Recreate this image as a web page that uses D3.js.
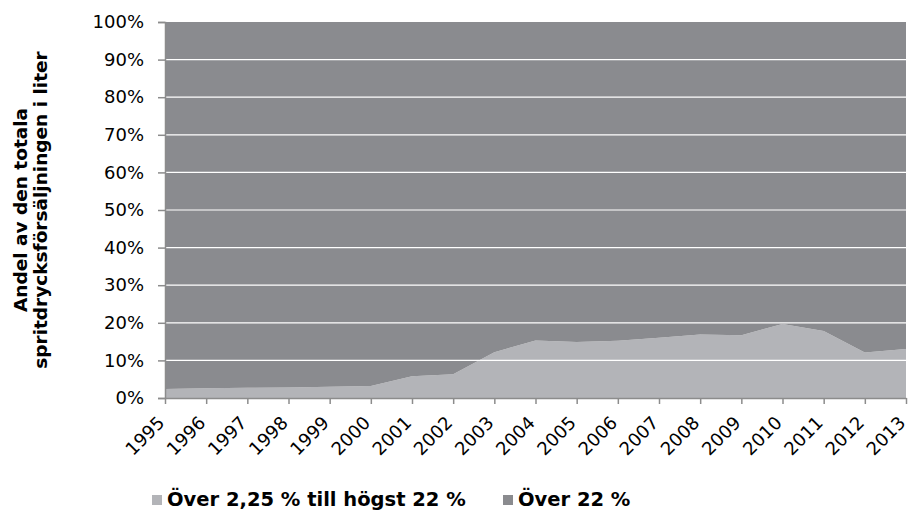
<!DOCTYPE html>
<html>
<head>
<meta charset="utf-8">
<script src="https://cdn.jsdelivr.net/npm/d3@7"></script>
<style>
  body { margin: 0; background: #fff; }
  svg { display: block; font-family: "DejaVu Sans", Verdana, sans-serif; }
</style>
</head>
<body>
<svg id="chart" width="912" height="512"></svg>
<script>
// Data (share of total spirits sales in litres, %)
const years = ['1995','1996','1997','1998','1999','2000','2001','2002','2003','2004',
  '2005','2006','2007','2008','2009','2010','2011','2012','2013'];
const lowStrength = [2.4, 2.6, 2.7, 2.8, 3.0, 3.2, 5.8, 6.3, 12.2, 15.3,
  14.9, 15.2, 16.0, 16.9, 16.7, 19.7, 17.8, 12.1, 13.0];
const highStrength = [97.6, 97.4, 97.3, 97.2, 97.0, 96.8, 94.2, 93.7, 87.8, 84.7,
  85.1, 84.8, 84.0, 83.1, 83.3, 80.3, 82.2, 87.9, 87.0];
const seriesNames = ['Över 2,25 % till högst 22 %', 'Över 22 %'];
const seriesColors = ['#b3b4b8', '#8a8b8f'];
const yTicks = [0, 10, 20, 30, 40, 50, 60, 70, 80, 90, 100];

const svg = d3.select('svg#chart');
const margin = {top: 22, right: 6, bottom: 114, left: 165};
const width = +svg.attr('width') - margin.left - margin.right;
const height = +svg.attr('height') - margin.top - margin.bottom;
const g = svg.append('g').attr('transform', `translate(${margin.left},${margin.top})`);

const rows = years.map((y, i) => ({year: y, low: lowStrength[i], high: highStrength[i]}));
const stacked = d3.stack().keys(['low', 'high'])(rows);

const x = d3.scalePoint().domain(years).range([0, width]);
const y = d3.scaleLinear().domain([0, 100]).range([height, 0]);

const area = d3.area()
  .x(d => x(d.data.year))
  .y0(d => y(d[0]))
  .y1(d => y(d[1]));

g.selectAll('path.layer')
  .data(stacked)
  .join('path')
  .attr('class', 'layer')
  .attr('fill', (d, i) => seriesColors[i])
  .attr('d', area);

// white gridlines over the areas
g.selectAll('line.grid')
  .data(yTicks.filter(t => t > 0 && t < 100))
  .join('line')
  .attr('class', 'grid')
  .attr('x1', 0).attr('x2', width)
  .attr('y1', d => y(d)).attr('y2', d => y(d))
  .attr('stroke', '#fff')
  .attr('stroke-width', 1.2);

// y axis
const yAxis = g.append('g')
  .call(d3.axisLeft(y).tickValues(yTicks).tickSize(7).tickPadding(14).tickFormat(d => d + '%'));
yAxis.select('.domain').attr('stroke', '#8c8c8c').attr('stroke-width', 1.5);
yAxis.selectAll('.tick line').attr('stroke', '#8c8c8c').attr('stroke-width', 1.5);
yAxis.selectAll('.tick text')
  .attr('fill', '#000')
  .style('font-size', '18px')
  .style('font-family', '"DejaVu Sans", sans-serif');

// x axis, labels rotated so they end just under each tick
const xAxis = g.append('g')
  .attr('transform', `translate(0,${height})`)
  .call(d3.axisBottom(x).tickSize(6).tickSizeOuter(0));
xAxis.select('.domain').attr('stroke', '#8c8c8c').attr('stroke-width', 1.5);
xAxis.selectAll('.tick line').attr('stroke', '#8c8c8c').attr('stroke-width', 1.5);
xAxis.selectAll('.tick text')
  .attr('fill', '#000')
  .attr('x', 0).attr('y', 0)
  .attr('dy', 0)
  .attr('text-anchor', 'end')
  .attr('transform', 'translate(0,26) rotate(-45)')
  .style('font-size', '18px')
  .style('font-family', '"DejaVu Sans", sans-serif');

// y axis title
const title = svg.append('text')
  .attr('transform', `translate(0,${margin.top + height / 2}) rotate(-90)`)
  .attr('text-anchor', 'middle')
  .style('font-size', '18.5px')
  .style('font-weight', 'bold');
title.append('tspan').attr('x', 0).attr('y', 27).text('Andel av den totala');
title.append('tspan').attr('x', 0).attr('y', 47).text('spritdrycksförsäljningen i liter');

// legend
const legendX = [152, 503];
const legend = svg.append('g').attr('transform', 'translate(0,495)');
const items = legend.selectAll('g')
  .data(seriesNames)
  .join('g')
  .attr('transform', (d, i) => `translate(${legendX[i]},0)`);
items.append('rect')
  .attr('width', 10).attr('height', 10)
  .attr('fill', (d, i) => seriesColors[i]);
items.append('text')
  .attr('x', 15).attr('y', 11)
  .style('font-size', '19.5px')
  .style('font-weight', 'bold')
  .text(d => d);
</script>
</body>
</html>
